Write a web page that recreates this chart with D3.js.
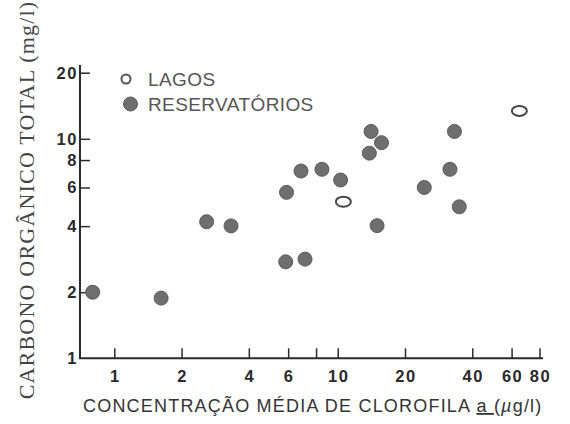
<!DOCTYPE html>
<html><head><meta charset="utf-8">
<script src="https://cdn.jsdelivr.net/npm/d3@7"></script>
<style>html,body{margin:0;padding:0;background:#fff;}</style>
</head><body>
<script>
// Data
const reservatorios = [
  [0.80, 2.0], [1.62, 1.88], [2.59, 4.19], [3.33, 4.01],
  [5.9, 5.7], [6.85, 7.13], [8.5, 7.26], [10.3, 6.49],
  [5.85, 2.75], [7.14, 2.83], [14.1, 10.8], [15.7, 9.6],
  [13.85, 8.6], [15.0, 4.02], [24.4, 6.0], [31.8, 7.26],
  [33.3, 10.8], [35.0, 4.9]
];
const lagos = [[10.6, 5.17], [65, 13.4]];
const xTicks = [1, 2, 4, 6, 8, 10, 20, 40, 60, 80];
const xTickLabels = ["1", "2", "4", "6", "", "10", "20", "40", "60", "80"];
const yTicks = [1, 2, 4, 6, 8, 10, 20];
const yTickLabels = ["1", "2", "4", "6", "8", "10", "20"];
const legendItems = ["LAGOS", "RESERVATÓRIOS"];

const W = 570, H = 424;
const svg = d3.select("body").append("svg").attr("width", W).attr("height", H)
  .style("background", "#fff");

const x = d3.scaleLog().domain([1, 80]).range([114.3, 539.5]);
const y = d3.scaleLog().domain([1, 20]).range([358.3, 72.7]);
const xMin = 0.702, xMax = 83, yMax = 21.7;
const ink = "#2a2a2a";

// Axis lines
svg.append("path")
  .attr("d", `M${x(xMin)},${y(yMax)} V${y(1)} H${x(xMax)}`)
  .attr("fill", "none").attr("stroke", ink).attr("stroke-width", 2);

// X axis via d3.axisTop (ticks pointing inward)
const xAxis = svg.append("g").attr("transform", `translate(0,${y(1)})`)
  .call(d3.axisTop(x).tickValues(xTicks).tickSize(10).tickFormat(""));
xAxis.select(".domain").remove();
xAxis.selectAll("line").attr("stroke", ink).attr("stroke-width", 1.5);
svg.append("g").selectAll("text").data(xTicks).join("text")
  .attr("x", d => x(d) + 1).attr("y", y(1) + 24)
  .attr("text-anchor", "middle")
  .attr("font-family", "Liberation Sans, Arial, sans-serif")
  .attr("font-weight", "bold").attr("font-size", 16.5)
  .attr("letter-spacing", 1.5).attr("fill", ink)
  .text((d, i) => xTickLabels[i]);

// Y axis
const yAxis = svg.append("g").attr("transform", `translate(${x(xMin)},0)`)
  .call(d3.axisRight(y).tickValues(yTicks.filter(d => d > 1)).tickSize(10).tickFormat(""));
yAxis.select(".domain").remove();
yAxis.selectAll("line").attr("stroke", ink).attr("stroke-width", 1.5);
svg.append("g").selectAll("text").data(yTicks).join("text")
  .attr("x", x(xMin) - 2).attr("y", d => y(d) + 6)
  .attr("text-anchor", "end")
  .attr("font-family", "Liberation Sans, Arial, sans-serif")
  .attr("font-weight", "bold").attr("font-size", 16.5)
  .attr("letter-spacing", 1.5).attr("fill", ink)
  .text((d, i) => yTickLabels[i]);

// Axis titles
const xt = svg.append("text")
  .attr("x", 83).attr("y", 412)
  .attr("font-family", "Liberation Sans, Arial, sans-serif")
  .attr("font-size", 18).attr("letter-spacing", 1.2).attr("fill", "#333");
xt.append("tspan").text("CONCENTRAÇÃO MÉDIA DE CLOROFILA ");
xt.append("tspan").attr("text-decoration", "underline").text("a ");
xt.append("tspan").text(" (");
xt.append("tspan").attr("font-style", "italic").text("µ");
xt.append("tspan").text("g/l)");

svg.append("text")
  .attr("transform", `translate(34,200) rotate(-90)`)
  .attr("text-anchor", "middle")
  .attr("font-family", "Liberation Serif, Times New Roman, serif")
  .attr("font-size", 22).attr("letter-spacing", 1.2).attr("fill", "#444")
  .text("CARBONO ORGÂNICO TOTAL (mg/l)");

// Points
svg.append("g").selectAll("circle").data(reservatorios).join("circle")
  .attr("cx", d => x(d[0])).attr("cy", d => y(d[1])).attr("r", 7)
  .attr("fill", "#6e6e6e").attr("stroke", "#5a5a5a").attr("stroke-width", 1);
svg.append("g").selectAll("ellipse").data(lagos).join("ellipse")
  .attr("cx", d => x(d[0])).attr("cy", d => y(d[1])).attr("rx", 7.5).attr("ry", 5)
  .attr("fill", "#fff").attr("stroke", "#444").attr("stroke-width", 2);

// Legend
const lg = svg.append("g");
lg.append("circle").attr("cx", 126).attr("cy", 79).attr("r", 4.5)
  .attr("fill", "#fff").attr("stroke", "#555").attr("stroke-width", 2);
lg.append("circle").attr("cx", 130.5).attr("cy", 104).attr("r", 7)
  .attr("fill", "#6e6e6e").attr("stroke", "#5a5a5a");
lg.selectAll("text").data(legendItems).join("text")
  .attr("x", 148).attr("y", (d, i) => 86 + i * 25)
  .attr("font-family", "Liberation Sans, Arial, sans-serif")
  .attr("font-size", 19).attr("letter-spacing", 0.4).attr("fill", "#555")
  .text(d => d);
</script>
</body></html>
